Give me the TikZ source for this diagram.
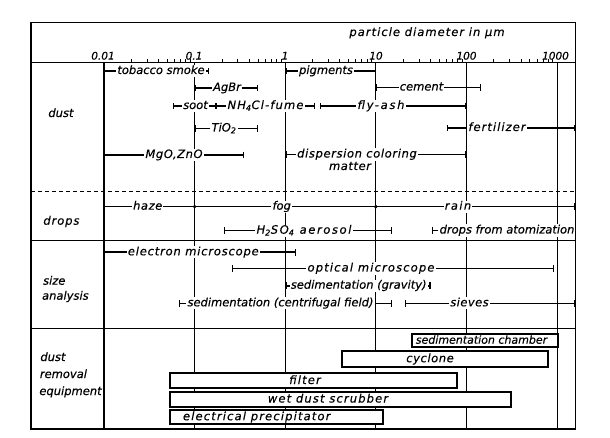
\documentclass[tikz,border=0pt]{standalone}
\usepackage{fontspec}
\setmainfont{DejaVu Sans}[FakeBold=0.35]
\usetikzlibrary{arrows.meta}
\newcommand\prange[7][]{%
  \coordinate (#2a) at (#3,#5);
  \coordinate (#2b) at (#4,#5);
  \draw[rng] (#2a) -- (#2b);
  \node[lab,#1] (#2) at (#6,#5) {#7};
}
\tikzset{
  lab/.style={font=\itshape\fontsize{11.5}{13}\selectfont, fill=white, inner xsep=1.2pt, inner ysep=0.6pt, text height=8.5pt, text depth=2.5pt},
  ls/.style={font=\itshape\fontsize{11.5}{13}\selectfont\addfontfeature{LetterSpace=#1}},
  side/.style={lab, fill=none, anchor=west},
  tklab/.style={font=\itshape\fontsize{10.5}{12}\selectfont, inner sep=0pt, text height=7.6pt, text depth=0pt},
  rng/.style={line width=1.6pt, {Bar[width=6.5pt,line width=1.3pt]}-{Bar[width=6.5pt,line width=1.3pt]}},
  frame/.style={line width=1.7pt},
  sect/.style={line width=1.4pt},
  dsect/.style={line width=1.1pt, dash pattern=on 4pt off 3pt},
  vline/.style={line width=1pt},
  vzero/.style={line width=1.3pt},
  tk/.style={line width=0.8pt},
  dotc/.style={circle, fill=black, inner sep=0pt, minimum size=3.8pt},
  eqbox/.style={line width=1.8pt, fill=white},
}
\begin{document}
\begin{tikzpicture}[x=1pt,y=-1pt]
\fill[white] (0,0) rectangle (610,438);
\useasboundingbox (0,0) rectangle (610,438);
% frame corners
\coordinate (fnw) at (31,22.5);
\coordinate (fse) at (575.5,429);
% horizontal dividers
\coordinate (axl) at (31,62.7);   \coordinate (axr) at (575.5,62.7);
\coordinate (dsl) at (31,191.7);  \coordinate (dsr) at (575.5,191.7);
\coordinate (s1l) at (31,240.7);  \coordinate (s1r) at (575.5,240.7);
\coordinate (s2l) at (31,328.3);  \coordinate (s2r) at (575.5,328.3);
% vertical decade lines
\coordinate (v0t) at (104,62.7);   \coordinate (v0b) at (104,429);
\coordinate (v1t) at (194.6,62.7); \coordinate (v1b) at (194.6,429);
\coordinate (v2t) at (285.2,62.7); \coordinate (v2b) at (285.2,429);
\coordinate (v3t) at (375.8,62.7); \coordinate (v3b) at (375.8,429);
\coordinate (v4t) at (466.4,62.7); \coordinate (v4b) at (466.4,429);
\coordinate (v5t) at (557,62.7);   \coordinate (v5b) at (557,429);
\draw[vzero] (v0t) -- (v0b);
\draw[vline] (v1t) -- (v1b);
\draw[vline] (v2t) -- (v2b);
\draw[vline] (v3t) -- (v3b);
\draw[vline] (v4t) -- (v4b);
\draw[vline] (v5t) -- (v5b);
\draw[sect] (axl) -- (axr);
\draw[dsect] (dsl) -- (dsr);
\draw[sect] (s1l) -- (s1r);
\draw[sect] (s2l) -- (s2r);
% ticks
\foreach \k in {0,...,4}
  \foreach \o in {27.3,43.2,54.5,63.3,70.5,76.6,81.8,86.4}
    \draw[tk] ({104+90.6*\k+\o},62.7) -- ++(0,-3.2);
% tick labels
\node[tklab] (t0) at (103,55.8) {0.01};
\node[tklab] (t1) at (194,55.8) {0.1};
\node[tklab] (t2) at (285,55.8) {1};
\node[tklab] (t3) at (376,55.8) {10};
\node[tklab] (t4) at (466.5,55.8) {100};
\node[tklab] (t5) at (555.5,55.8) {1000};
\node[lab, ls=9, fill=none] (title) at (427,33) {particle diameter in µm};
% dust
\prange{tob}{104}{209}{71}{161}{tobacco smoke}
\prange{pig}{285.2}{375.8}{71}{326}{pigments}
\prange{agbr}{194.6}{258}{88}{227}{AgBr}
\prange{cem}{375.8}{481}{87.5}{421.5}{cement}
\prange{soot}{172.7}{216}{106}{195.5}{soot}
\prange[ls=10]{nh}{216}{315}{106}{265.5}{NH\textsubscript{4}Cl-fume}
\prange[ls=15]{fly}{320}{466.4}{106}{381}{fly-ash}
\prange{tio}{194.6}{258}{128.5}{224}{TiO\textsubscript{2}}
\prange[ls=9]{fert}{446.7}{575.5}{128}{497}{fertilizer}
\prange[ls=5]{mgo}{104}{244}{155}{174}{MgO,ZnO}
\prange[ls=5.5]{disp}{285.2}{466.4}{154.5}{357}{dispersion coloring}
\node[lab, ls=5] (matter) at (350,167) {matter};
% drops
\coordinate (hza) at (104,206.7);
\coordinate (hzb) at (575.5,206.7);
\draw[rng] (hza) -- (hzb);
\node[dotc] (dot1) at (194.6,206.7) {};
\node[dotc] (dot3) at (375.8,206.7) {};
\node[lab, ls=5] (haze) at (147.7,206.7) {haze};
\node[lab] (fog) at (281.7,206.7) {fog};
\node[lab, ls=12] (rain) at (458,206.7) {rain};
\prange[ls=14]{hso}{224}{392}{230.7}{304}{H\textsubscript{2}SO\textsubscript{4} aerosol}
\prange{atom}{431.7}{575.5}{230.5}{507}{drops from atomization}
% size analysis
\prange[ls=7]{elec}{104}{296}{252.3}{193.3}{electron microscope}
\prange[ls=10]{opt}{231.7}{554}{268.5}{371}{optical microscope}
\prange{sgrav}{285.2}{430.7}{285.7}{358.7}{sedimentation (gravity)}
\prange{scent}{179}{392}{303.3}{280.5}{sedimentation (centrifugal field)}
\prange[ls=4]{sieve}{405}{575.5}{303.3}{469.5}{sieves}
% dust removal equipment
\coordinate (sca) at (411.7,334);  \coordinate (scb) at (557.7,347.3);
\coordinate (cya) at (341.7,351);  \coordinate (cyb) at (547.7,367.3);
\coordinate (fia) at (170,373.3);  \coordinate (fib) at (457.3,388.3);
\coordinate (wda) at (170,392.3);  \coordinate (wdb) at (510.7,406.7);
\coordinate (epa) at (170,410);    \coordinate (epb) at (383.3,424.3);
\draw[eqbox] (sca) rectangle (scb);
\draw[eqbox] (cya) rectangle (cyb);
\draw[eqbox] (fia) rectangle (fib);
\draw[eqbox] (wda) rectangle (wdb);
\draw[eqbox] (epa) rectangle (epb);
\node[lab, fill=none, font=\itshape\fontsize{11}{13}\selectfont] (sct) at (481.5,340.7) {sedimentation chamber};
\node[lab, fill=none, ls=5] (cyt) at (430,359.2) {cyclone};
\node[lab, fill=none, ls=10] (fit) at (305,381) {filter};
\node[lab, fill=none, ls=10] (wdt) at (328,399.5) {wet dust scrubber};
\node[lab, fill=none, ls=10] (ept) at (256.7,417.2) {electrical precipitator};
% side labels
\node[side] (ldust) at (47,114) {dust};
\node[side, ls=8] (ldrops) at (42,221.7) {drops};
\node[side] (lsize) at (41.7,281.7) {size};
\node[side] (lana) at (40.7,296.7) {analysis};
\node[side] (ldust2) at (39,358) {dust};
\node[side] (lrem) at (38.5,375) {removal};
\node[side] (lequ) at (38,392) {equipment};
% frame
\draw[frame] (fnw) rectangle (fse);
\end{tikzpicture}
\end{document}
